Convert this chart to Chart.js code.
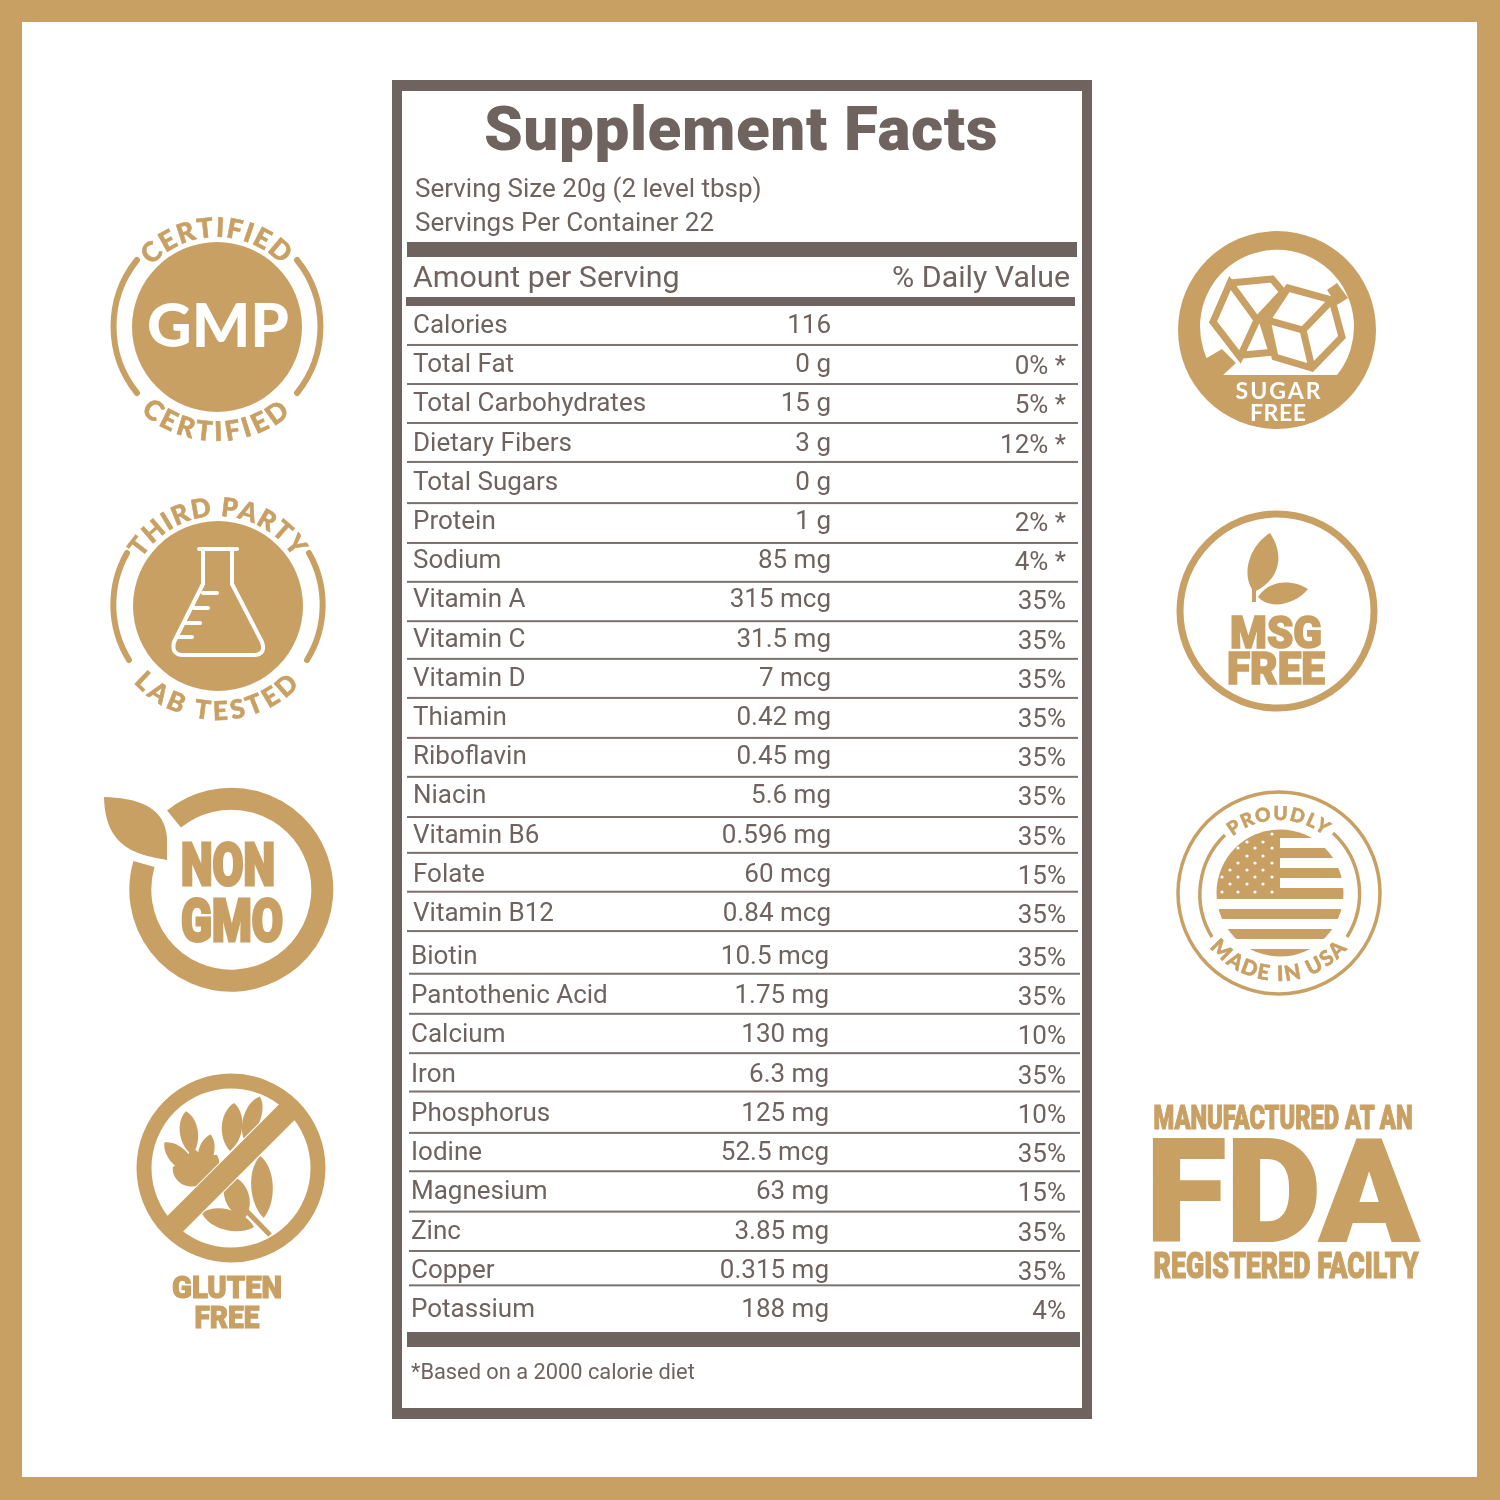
<!DOCTYPE html>
<html><head><meta charset="utf-8">
<script src="https://cdn.jsdelivr.net/npm/chart.js@4"></script>
<style>
html,body{margin:0;padding:0;background:#fff;}
#wrap{position:relative;width:1500px;height:1500px;overflow:hidden;}
canvas{position:absolute;left:0;top:0;}
svg{position:absolute;left:0;top:0;}
.h{font-family:Roboto;font-weight:900;fill:#c9a063;stroke:#c9a063;}
.c{font-family:Lato;font-weight:900;fill:#c9a063;stroke:#c9a063;stroke-width:.6;}
</style></head><body>
<div id="wrap"><canvas id="c" width="1500" height="1500"></canvas>
<svg width="1500" height="1500" viewBox="0 0 1500 1500">
<defs>
<path id="gT" d="M127 327A90 90 0 0 1 307 327"/>
<path id="gB" d="M103 327A114 114 0 0 0 331 327"/>
<path id="tT" d="M128 606A90 90 0 0 1 308 606"/>
<path id="tB" d="M104 606A114 114 0 0 0 332 606"/>
<path id="uT" d="M1206 893A73 73 0 0 1 1352 893"/>
<path id="uB" d="M1191 893A88 88 0 0 0 1367 893"/>
<path id="lf" d="M0 -1C.8 -.6 .8 .5 0 1C-.8 .5 -.8 -.6 0 -1Z"/>
<clipPath id="flag"><circle cx="1280" cy="893" r="63.5"/></clipPath>
</defs>
<g fill="none" stroke="#c9a063" stroke-width="6" stroke-linecap="round">
<path d="M137 260A106 106 0 0 0 137 393"/><path d="M297 260A106 106 0 0 1 297 393"/>
<path d="M127 553A105 105 0 0 0 129 660"/><path d="M309 553A105 105 0 0 1 307 660"/>
</g>
<circle cx="217" cy="327" r="85" fill="#c9a063"/>
<text x="218" y="347" text-anchor="middle" font-family="Lato" font-weight="900" font-size="60" fill="#fff" textLength="142" lengthAdjust="spacingAndGlyphs">GMP</text>
<text class="c" font-size="27"><textPath href="#gT" startOffset="50%" text-anchor="middle" letter-spacing="1.5">CERTIFIED</textPath></text>
<text class="c" font-size="27"><textPath href="#gB" startOffset="50%" text-anchor="middle" letter-spacing="3.6">CERTIFIED</textPath></text>

<circle cx="218" cy="606" r="85" fill="#c9a063"/>
<g fill="none" stroke="#fff" stroke-width="4" stroke-linejoin="round" stroke-linecap="round">
<path d="M199 549H237M203 549V584L174 642Q171 654 182 655H255Q266 654 262 642L232 584V549"/>
<path d="M203 593H217M194 608H208M186 623H200M178 637H192"/>
</g>
<text class="c" font-size="26"><textPath href="#tT" startOffset="50%" text-anchor="middle" letter-spacing="1.2">THIRD PARTY</textPath></text>
<text class="c" font-size="26"><textPath href="#tB" startOffset="50%" text-anchor="middle" letter-spacing="4">LAB TESTED</textPath></text>

<path d="M174 819A91 91 0 1 1 144 864" fill="none" stroke="#c9a063" stroke-width="22"/>
<path d="M104 797C135 798 165 805 167 838L167 860C140 855 105 850 104 797Z" fill="#c9a063"/>
<text class="h" x="228" y="885" text-anchor="middle" font-size="60" stroke-width="3" textLength="94" lengthAdjust="spacingAndGlyphs">NON</text>
<text class="h" x="232" y="941" text-anchor="middle" font-size="60" stroke-width="3" textLength="102" lengthAdjust="spacingAndGlyphs">GMO</text>

<g fill="#c9a063">
<use href="#lf" transform="translate(189 1133) rotate(-8) scale(15 22)"/>
<use href="#lf" transform="translate(206 1153) rotate(14) scale(13 19)"/>
<use href="#lf" transform="translate(180 1158) rotate(-45) scale(15 22)"/>
<use href="#lf" transform="translate(186 1176) rotate(-55) scale(15 16)"/>
<use href="#lf" transform="translate(210 1167) rotate(30) scale(13 14)"/>
<use href="#lf" transform="translate(232 1127) rotate(5) scale(17 24)"/>
<use href="#lf" transform="translate(252 1118) rotate(20) scale(14 23)"/>
<use href="#lf" transform="translate(262 1187) rotate(-3) scale(18 31)"/>
<use href="#lf" transform="translate(237 1197) rotate(-20) scale(20 23)"/>
<use href="#lf" transform="translate(228 1220) rotate(-75) scale(17 27)"/>
<use href="#lf" transform="translate(196 1168) rotate(-10) scale(15 20)"/>
</g>
<path d="M236 1200L270 1235" stroke="#c9a063" stroke-width="5" fill="none"/>
<path d="M171.6 1227.4L290.4 1108.6" stroke="#fff" stroke-width="24"/>
<path d="M171.6 1227.4L290.4 1108.6" stroke="#c9a063" stroke-width="22"/>
<circle cx="231" cy="1168" r="87" fill="none" stroke="#c9a063" stroke-width="15"/>
<text class="h" x="227" y="1298" text-anchor="middle" font-size="32" stroke-width="1.2" textLength="110" lengthAdjust="spacingAndGlyphs">GLUTEN</text>
<text class="h" x="227" y="1328" text-anchor="middle" font-size="32" stroke-width="1.2" textLength="65" lengthAdjust="spacingAndGlyphs">FREE</text>

<circle cx="1277" cy="330" r="99" fill="#c9a063"/>
<path d="M1217 375A77 77 0 1 1 1337 375Z" fill="#fff"/>
<path d="M1200 362L1222 349L1236 363L1222 376L1210 376ZM1327 290L1337 283L1348 298L1337 305Z" fill="#c9a063"/>
<g fill="none" stroke="#c9a063" stroke-width="7" stroke-linejoin="miter">
<path d="M1230 283L1272 279L1283 292L1257 320L1230 283L1213 322L1240 357L1257 320L1270 320M1243 355L1275 352M1262 320L1272 352"/>
<path d="M1288 288L1332 300L1342 337L1312 368L1275 357L1267 320ZM1332 300L1303 330L1267 320M1303 330L1312 368"/>
</g>
<text x="1278" y="399" text-anchor="middle" font-family="Lato" font-weight="700" font-size="23" fill="#fff" textLength="85" lengthAdjust="spacing">SUGAR</text>
<text x="1278" y="421" text-anchor="middle" font-family="Lato" font-weight="700" font-size="23" fill="#fff" textLength="56" lengthAdjust="spacing">FREE</text>

<circle cx="1277" cy="611" r="97" fill="none" stroke="#c9a063" stroke-width="7"/>
<path d="M1270 533C1250 545 1240 575 1254 592C1280 580 1285 555 1270 533ZM1258 597C1270 578 1295 580 1308 589C1295 605 1270 610 1258 597Z" fill="#c9a063"/>
<path d="M1254 602V585" stroke="#c9a063" stroke-width="4"/>
<text class="h" x="1276" y="648" text-anchor="middle" font-size="44" stroke-width="1.6" textLength="92" lengthAdjust="spacingAndGlyphs">MSG</text>
<text class="h" x="1276" y="684" text-anchor="middle" font-size="44" stroke-width="1.6" textLength="98" lengthAdjust="spacingAndGlyphs">FREE</text>

<circle cx="1279" cy="893" r="101" fill="none" stroke="#c9a063" stroke-width="3.5"/>
<g fill="none" stroke="#c9a063" stroke-width="3.5">
<path d="M1225 835A82 82 0 0 0 1212 937"/><path d="M1333 833A82 82 0 0 1 1347 937"/>
</g>
<g clip-path="url(#flag)" fill="#c9a063">
<rect x="1216" y="829" width="64" height="70"/>
<rect x="1280" y="829" width="70" height="9"/>
<rect x="1280" y="848" width="70" height="10"/>
<rect x="1280" y="868" width="70" height="10"/>
<rect x="1280" y="888" width="70" height="11"/>
<rect x="1216" y="909" width="134" height="10"/>
<rect x="1216" y="929" width="134" height="10"/>
<rect x="1216" y="949" width="134" height="10"/>
</g>
<g fill="#fff" id="stars"></g>
<text class="c" font-size="19"><textPath href="#uT" startOffset="50%" text-anchor="middle" letter-spacing="1.6">PROUDLY</textPath></text>
<text class="c" font-size="21"><textPath href="#uB" startOffset="50%" text-anchor="middle" letter-spacing="2">MADE IN USA</textPath></text>

<text class="h" x="1283" y="1129" text-anchor="middle" font-size="34" stroke-width="1.2" textLength="259" lengthAdjust="spacingAndGlyphs">MANUFACTURED AT AN</text>
<text class="h" x="1282.5" y="1241" text-anchor="middle" font-size="142" stroke-width="2" textLength="273" lengthAdjust="spacingAndGlyphs">FDA</text>
<text class="h" x="1286" y="1278" text-anchor="middle" font-size="36" stroke-width="1.2" textLength="265" lengthAdjust="spacingAndGlyphs">REGISTERED FACILTY</text>
</svg></div>
<script>
const nutrients=["Calories","Total Fat","Total Carbohydrates","Dietary Fibers","Total Sugars","Protein","Sodium","Vitamin A","Vitamin C","Vitamin D","Thiamin","Riboflavin","Niacin","Vitamin B6","Folate","Vitamin B12","Biotin","Pantothenic Acid","Calcium","Iron","Phosphorus","Iodine","Magnesium","Zinc","Copper","Potassium"];
const amounts=["116","0 g","15 g","3 g","0 g","1 g","85 mg","315 mcg","31.5 mg","7 mcg","0.42 mg","0.45 mg","5.6 mg","0.596 mg","60 mcg","0.84 mcg","10.5 mcg","1.75 mg","130 mg","6.3 mg","125 mg","52.5 mcg","63 mg","3.85 mg","0.315 mg","188 mg"];
const dailyValues=[null,0,5,12,null,2,4,35,35,35,35,35,35,35,15,35,35,35,10,35,10,35,15,35,35,4];
const starred=["Total Fat","Total Carbohydrates","Dietary Fibers","Protein","Sodium"];
const title="Supplement Facts";
const servingLines=["Serving Size 20g (2 level tbsp)","Servings Per Container 22"];
const headers=["Amount per Serving","% Daily Value"];
const footnote="*Based on a 2000 calorie diet";

const ink="#6f6360", rule="#7b716e", gold="#c9a063";
const ruleShift=[1.3,1,.6,.2,2,2.5,2,2,.3,0,.6,.2,1,-2.5,-3,-3,.3,1,1,0,2,1,2,2,-3];
const F=(w,s)=>`${w} ${s}px Roboto`;
function put(ctx,t,x,y,font,align){ctx.font=font;ctx.textAlign=align||"left";ctx.textBaseline="alphabetic";ctx.fillStyle=ink;ctx.fillText(t,x,y);}
const tablePlugin={id:"table",
 beforeDraw(ch){const c=ch.ctx;c.save();
  c.fillStyle=gold;c.fillRect(0,0,1500,1500);
  c.fillStyle="#fff";c.fillRect(22,22,1455,1455);
  c.fillStyle=ink;c.fillRect(392,80,700,1339);
  c.fillStyle="#fff";c.fillRect(402,91,680,1317);
  c.fillStyle=ink;
  c.fillRect(407,242,670,15);c.fillRect(406,297,669,9);c.fillRect(407,1332,673,15);
  c.restore();},
 afterDraw(ch){const c=ch.ctx,y=ch.scales.y,n=nutrients.length;c.save();
  c.fillStyle=rule;
  for(let i=0;i<n-1;i++){
   const py=(y.getPixelForValue(i)+y.getPixelForValue(i+1))/2+ruleShift[i];
   c.fillRect(i<16?407:409,py-1,671,2);
  }
  c.letterSpacing="0.6px";
  put(c,title,741,150,F(900,62),"center");
  c.letterSpacing="0px";
  put(c,servingLines[0],415,197,F(400,26));
  put(c,servingLines[1],415,231,F(400,26));
  put(c,headers[0],413,287,F(400,30.4));
  put(c,headers[1],1070,287,F(400,30.3),"right");
  nutrients.forEach((name,i)=>{
   const shift=i<16?-0.16*i:1.2*(25-i)/9;
   const py=y.getPixelForValue(i)+9+shift, s=i>=16?-2:0;
   put(c,name,413+s,py,F(400,26));
   put(c,amounts[i],831+s,py,F(400,26),"right");
   if(dailyValues[i]!==null)put(c,dailyValues[i]+"%"+(starred.includes(name)?" *":""),1066,py+2,F(400,26),"right");
  });
  put(c,footnote,411,1379,F(400,21.8));
  c.restore();}};
new Chart(document.getElementById("c"),{type:"bar",
 data:{labels:nutrients,datasets:[{label:"% Daily Value",data:dailyValues,backgroundColor:"transparent",borderWidth:0}]},
 options:{indexAxis:"y",responsive:false,animation:false,devicePixelRatio:1,
  layout:{padding:{left:407,right:421,top:304.3,bottom:172.3}},
  plugins:{legend:{display:false},tooltip:{enabled:false}},
  scales:{x:{display:false,min:0,max:100},
   y:{offset:true,border:{display:false},grid:{display:false},ticks:{display:false,autoSkip:false}}}},
 plugins:[tablePlugin]});
// stars in flag canton
const st=document.getElementById("stars");
[[1272,834],[1247,842],[1263,842],[1238,848],[1255,848],[1272,848],[1247,856],[1263,856],[1238,863],[1255,863],[1272,863],[1230,870],[1247,870],[1263,870],[1222,877],[1238,877],[1255,877],[1272,877],[1230,884],[1247,884],[1263,884],[1222,892],[1238,892],[1255,892],[1272,892]].forEach(p=>{
 const e=document.createElementNS("http://www.w3.org/2000/svg","circle");e.setAttribute("cx",p[0]);e.setAttribute("cy",p[1]);e.setAttribute("r",1.6);st.appendChild(e);});
</script></body></html>
